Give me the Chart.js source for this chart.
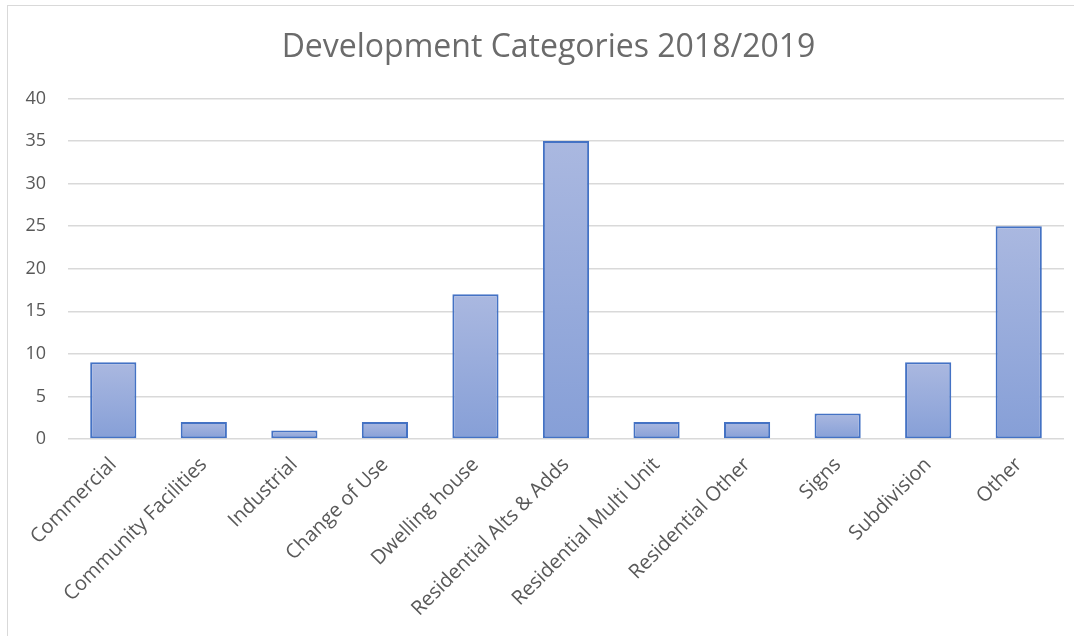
<!DOCTYPE html>
<html>
<head>
<meta charset="utf-8">
<script src="https://cdn.jsdelivr.net/npm/chart.js@4/dist/chart.umd.min.js"></script>
<style>
  html, body { margin: 0; padding: 0; background: #fff; overflow: hidden; }
  #frame {
    position: absolute; left: 7px; top: 5px; width: 1066px; height: 700px;
    border-left: 1.5px solid #d9d9d9; border-top: 1.5px solid #d9d9d9;
  }
  #wrap { position: absolute; left: 0; top: 0; width: 1082px; height: 636px; }
</style>
</head>
<body>
<div id="frame"></div>
<div id="wrap"><canvas id="devChart"></canvas></div>
<script>
const categories = ['Commercial', 'Community Facilities', 'Industrial', 'Change of Use',
    'Dwelling house', 'Residential Alts & Adds', 'Residential Multi Unit',
    'Residential Other', 'Signs', 'Subdivision', 'Other'];
const counts = [9, 2, 1, 2, 17, 35, 2, 2, 3, 9, 25];
const yTicks = [0, 5, 10, 15, 20, 25, 30, 35, 40];

const textColor = '#595959';
const fontFamily = '"Open Sans", Lato, sans-serif';

// each bar gets its own light-to-dark vertical fill
function barFill(context) {
    const chart = context.chart;
    if (!chart.chartArea || context.parsed === undefined) return '#98abdc';
    const y = chart.scales.y;
    const top = y.getPixelForValue(context.parsed.y);
    const bottom = y.getPixelForValue(0);
    if (!isFinite(top) || top === bottom) return '#98abdc';
    const g = chart.ctx.createLinearGradient(0, top, 0, bottom);
    g.addColorStop(0, '#aab8e0');
    g.addColorStop(1, '#869fd7');
    return g;
}

const ctx = document.getElementById('devChart').getContext('2d');
const devChart = new Chart(ctx, {
    type: 'bar',
    data: {
        labels: categories,
        datasets: [{
            data: counts,
            backgroundColor: barFill,
            borderColor: '#4472c4',
            borderWidth: 2,
            borderSkipped: false,
            categoryPercentage: 1,
            barPercentage: 0.51
        }]
    },
    options: {
        responsive: true,
        maintainAspectRatio: false,
        animation: false,
        layout: { padding: { left: 15, right: 0, top: 0, bottom: 0 } },
        plugins: {
            legend: { display: false },
            tooltip: { enabled: false },
            title: {
                display: true,
                text: 'Development Categories 2018/2019',
                color: '#6b6b6b',
                font: { family: fontFamily, size: 32, weight: 'normal' },
                padding: { top: 29, bottom: 31 }
            }
        },
        scales: {
            x: {
                grid: { display: false, drawTicks: false },
                border: { display: false },
                ticks: {
                    color: textColor,
                    font: { family: fontFamily, size: 20 },
                    maxRotation: 45,
                    minRotation: 45,
                    autoSkip: false,
                    padding: 14
                },
                afterFit: (scale) => { scale.height = 197; scale.paddingRight = 18; }
            },
            y: {
                min: 0,
                max: 40,
                afterBuildTicks: (scale) => { scale.ticks = yTicks.map(v => ({ value: v })); },
                grid: { color: '#d9d9d9', lineWidth: 1.5, drawTicks: false },
                border: { display: false },
                ticks: {
                    color: textColor,
                    font: { family: fontFamily, size: 18 },
                    padding: 22
                },
                afterFit: (scale) => { scale.width = 53; }
            }
        }
    }
});
</script>
</body>
</html>
